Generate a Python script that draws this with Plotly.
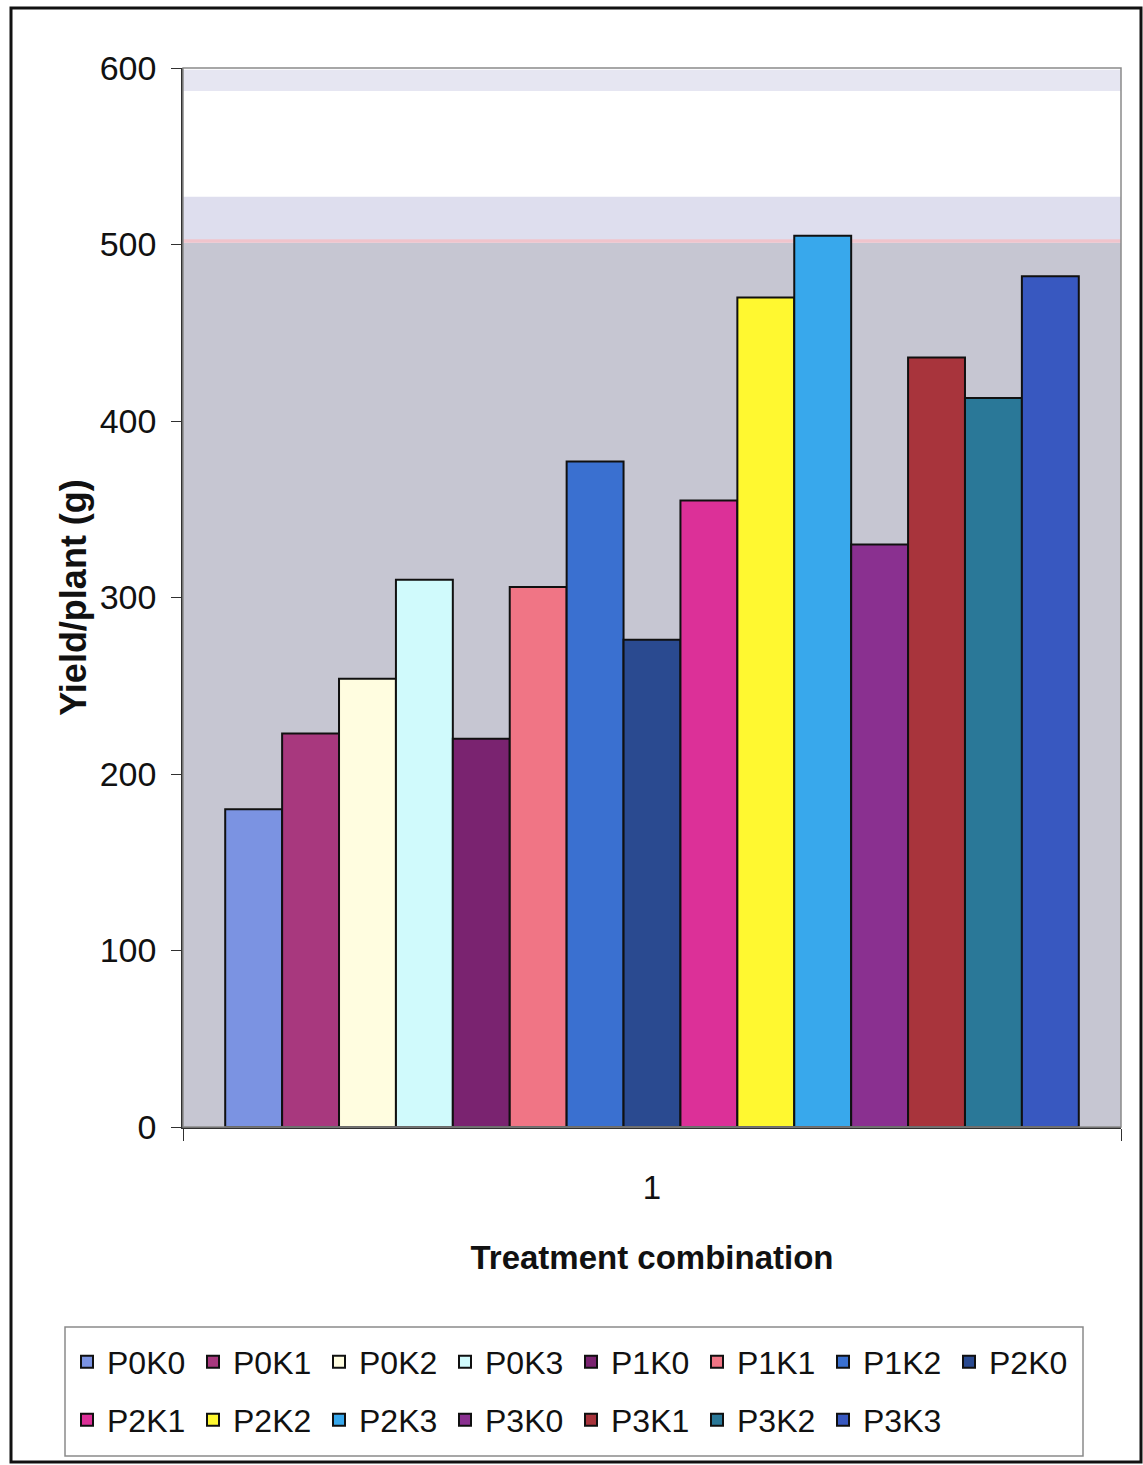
import plotly.graph_objects as go

# Treatment combinations and measured yield per plant (g)
treatments = ["P0K0", "P0K1", "P0K2", "P0K3", "P1K0", "P1K1", "P1K2", "P2K0",
              "P2K1", "P2K2", "P2K3", "P3K0", "P3K1", "P3K2", "P3K3"]
yield_g = [180, 223, 254, 310, 220, 306, 377, 276,
           355, 470, 505, 330, 436, 413, 482]
group_label = ["1"]
y_ticks = [0, 100, 200, 300, 400, 500, 600]

bar_colors = ["#7b93e2", "#a8387e", "#fffde0", "#d0fafc", "#7a2370", "#f07585",
              "#3a70d0", "#2a4a90", "#dc3098", "#fff830", "#38a8ec", "#8a3090",
              "#a8343c", "#2a7898", "#3858c0"]

W, H = 1143, 1465
ML, MR, MT, MB = 183, 22, 68, 338
PW, PH = W - ML - MR, H - MT - MB


def px_x(x):
    return (x - ML) / PW


def px_y(y):
    return (H - MB - y) / PH


FONT = "Arial, Liberation Sans, sans-serif"

fig = go.Figure()
for i, (name, val, col) in enumerate(zip(treatments, yield_g, bar_colors)):
    fig.add_trace(go.Bar(
        x=group_label, y=[val], name=name,
        marker=dict(color=col, line=dict(color="#101010", width=2)),
        legend="legend" if i < 8 else "legend2",
    ))

shapes = [
    # faded upper band of the plotting area
    dict(type="rect", xref="paper", yref="y", x0=0, x1=1, y0=501, y1=600,
         fillcolor="#ffffff", line_width=0, layer="below"),
    dict(type="rect", xref="paper", yref="y", x0=0, x1=1, y0=501, y1=527,
         fillcolor="#dedeee", line_width=0, layer="below"),
    dict(type="rect", xref="paper", yref="y", x0=0, x1=1, y0=501, y1=503,
         fillcolor="#f0c4cc", line_width=0, layer="below"),
    dict(type="rect", xref="paper", yref="y", x0=0, x1=1, y0=587, y1=599,
         fillcolor="#e6e6f2", line_width=0, layer="below"),
    # plot area frame
    dict(type="rect", xref="paper", yref="paper", x0=0, x1=1, y0=0, y1=1,
         line=dict(color="#8a8a8a", width=1.5), fillcolor="rgba(0,0,0,0)"),
    # legend box
    dict(type="rect", xref="paper", yref="paper",
         x0=px_x(65), x1=px_x(1083), y0=px_y(1456), y1=px_y(1327),
         line=dict(color="#8a8a8a", width=1.5), fillcolor="rgba(0,0,0,0)"),
    # outer chart border
    dict(type="rect", xref="paper", yref="paper",
         x0=px_x(11), x1=px_x(1141), y0=px_y(1462), y1=px_y(8),
         line=dict(color="#111111", width=3), fillcolor="rgba(0,0,0,0)"),
]

legend_common = dict(
    orientation="h", xref="paper", yref="paper",
    xanchor="left", yanchor="middle", bgcolor="rgba(0,0,0,0)",
    borderwidth=0, font=dict(family=FONT, size=32, color="#111111"),
    entrywidth=81, entrywidthmode="pixels", itemwidth=30, traceorder="normal",
)

fig.update_layout(
    width=W, height=H,
    margin=dict(l=ML, r=MR, t=MT, b=MB),
    paper_bgcolor="#ffffff", plot_bgcolor="#c6c6d2",
    barmode="group", bargap=0.09, bargroupgap=0,
    font=dict(family=FONT, color="#111111"),
    showlegend=True,
    legend=dict(x=px_x(67), y=px_y(1362), **legend_common),
    legend2=dict(x=px_x(67), y=px_y(1420), **legend_common),
    shapes=shapes,
    xaxis=dict(
        type="category", showgrid=False, showline=True, linecolor="#303030", linewidth=1.5,
        ticks="outside", tickson="boundaries", ticklen=12, tickcolor="#303030",
        tickfont=dict(size=33), ticklabelstandoff=31,
        title=dict(text="<b>Treatment combination</b>", font=dict(size=33), standoff=41),
    ),
    yaxis=dict(
        range=[0, 600], tickvals=y_ticks, showgrid=False, zeroline=False,
        showline=True, linecolor="#303030", linewidth=1.5,
        ticks="outside", ticklen=10, tickcolor="#303030",
        tickfont=dict(size=34), ticklabelstandoff=8,
        title=dict(text="<b>Yield/plant (g)</b>", font=dict(size=36), standoff=2),
    ),
)

fig.write_html("out.html")
